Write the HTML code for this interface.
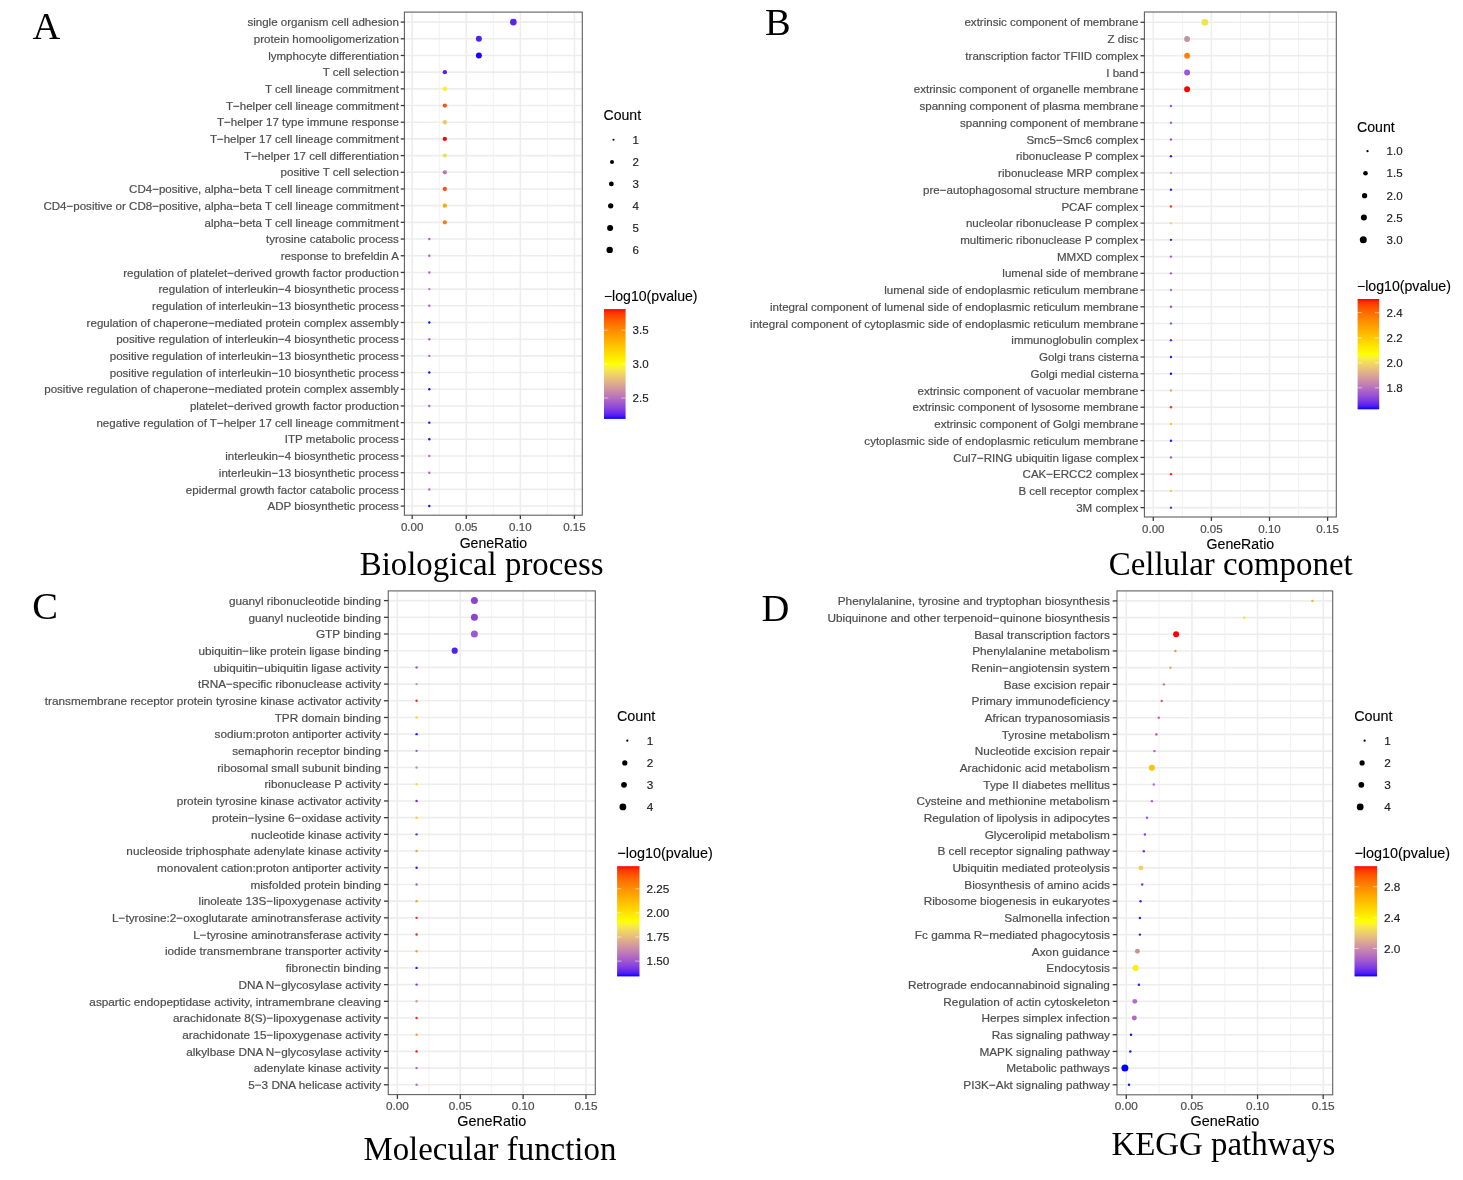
<!DOCTYPE html>
<html><head><meta charset="utf-8"><style>
html,body{margin:0;padding:0;background:#fff;}
svg{display:block;will-change:transform;}
.ax{font-family:"Liberation Sans", sans-serif;font-size:11.45px;fill:#4d4d4d;stroke:#4d4d4d;stroke-width:0.2px;}
.lg{font-family:"Liberation Sans", sans-serif;font-size:11.45px;fill:#1a1a1a;stroke:#1a1a1a;stroke-width:0.15px;}
.ti{font-family:"Liberation Sans", sans-serif;font-size:14.1px;fill:#000;stroke:#000;stroke-width:0.12px;}
.let{font-family:"Liberation Serif", serif;font-size:38.5px;fill:#000;}
.big{font-family:"Liberation Serif", serif;font-size:32.9px;fill:#000;}
</style></head><body>
<svg width="1463" height="1180" viewBox="0 0 1463 1180">
<rect width="1463" height="1180" fill="#fff"/>
<rect x="404.4" y="12.1" width="177.89999999999998" height="503.1" fill="#fff"/>
<line x1="439.24" y1="12.1" x2="439.24" y2="515.2" stroke="#f0f0f0" stroke-width="0.9"/>
<line x1="493.31" y1="12.1" x2="493.31" y2="515.2" stroke="#f0f0f0" stroke-width="0.9"/>
<line x1="547.38" y1="12.1" x2="547.38" y2="515.2" stroke="#f0f0f0" stroke-width="0.9"/>
<line x1="412.20" y1="12.1" x2="412.20" y2="515.2" stroke="#ededed" stroke-width="1.6"/>
<line x1="466.27" y1="12.1" x2="466.27" y2="515.2" stroke="#ededed" stroke-width="1.6"/>
<line x1="520.34" y1="12.1" x2="520.34" y2="515.2" stroke="#ededed" stroke-width="1.6"/>
<line x1="574.41" y1="12.1" x2="574.41" y2="515.2" stroke="#ededed" stroke-width="1.6"/>
<line x1="404.4" y1="22.10" x2="582.3" y2="22.10" stroke="#ededed" stroke-width="1.6"/>
<line x1="404.4" y1="38.79" x2="582.3" y2="38.79" stroke="#ededed" stroke-width="1.6"/>
<line x1="404.4" y1="55.48" x2="582.3" y2="55.48" stroke="#ededed" stroke-width="1.6"/>
<line x1="404.4" y1="72.17" x2="582.3" y2="72.17" stroke="#ededed" stroke-width="1.6"/>
<line x1="404.4" y1="88.85" x2="582.3" y2="88.85" stroke="#ededed" stroke-width="1.6"/>
<line x1="404.4" y1="105.54" x2="582.3" y2="105.54" stroke="#ededed" stroke-width="1.6"/>
<line x1="404.4" y1="122.23" x2="582.3" y2="122.23" stroke="#ededed" stroke-width="1.6"/>
<line x1="404.4" y1="138.92" x2="582.3" y2="138.92" stroke="#ededed" stroke-width="1.6"/>
<line x1="404.4" y1="155.61" x2="582.3" y2="155.61" stroke="#ededed" stroke-width="1.6"/>
<line x1="404.4" y1="172.30" x2="582.3" y2="172.30" stroke="#ededed" stroke-width="1.6"/>
<line x1="404.4" y1="188.99" x2="582.3" y2="188.99" stroke="#ededed" stroke-width="1.6"/>
<line x1="404.4" y1="205.67" x2="582.3" y2="205.67" stroke="#ededed" stroke-width="1.6"/>
<line x1="404.4" y1="222.36" x2="582.3" y2="222.36" stroke="#ededed" stroke-width="1.6"/>
<line x1="404.4" y1="239.05" x2="582.3" y2="239.05" stroke="#ededed" stroke-width="1.6"/>
<line x1="404.4" y1="255.74" x2="582.3" y2="255.74" stroke="#ededed" stroke-width="1.6"/>
<line x1="404.4" y1="272.43" x2="582.3" y2="272.43" stroke="#ededed" stroke-width="1.6"/>
<line x1="404.4" y1="289.12" x2="582.3" y2="289.12" stroke="#ededed" stroke-width="1.6"/>
<line x1="404.4" y1="305.81" x2="582.3" y2="305.81" stroke="#ededed" stroke-width="1.6"/>
<line x1="404.4" y1="322.50" x2="582.3" y2="322.50" stroke="#ededed" stroke-width="1.6"/>
<line x1="404.4" y1="339.18" x2="582.3" y2="339.18" stroke="#ededed" stroke-width="1.6"/>
<line x1="404.4" y1="355.87" x2="582.3" y2="355.87" stroke="#ededed" stroke-width="1.6"/>
<line x1="404.4" y1="372.56" x2="582.3" y2="372.56" stroke="#ededed" stroke-width="1.6"/>
<line x1="404.4" y1="389.25" x2="582.3" y2="389.25" stroke="#ededed" stroke-width="1.6"/>
<line x1="404.4" y1="405.94" x2="582.3" y2="405.94" stroke="#ededed" stroke-width="1.6"/>
<line x1="404.4" y1="422.63" x2="582.3" y2="422.63" stroke="#ededed" stroke-width="1.6"/>
<line x1="404.4" y1="439.32" x2="582.3" y2="439.32" stroke="#ededed" stroke-width="1.6"/>
<line x1="404.4" y1="456.00" x2="582.3" y2="456.00" stroke="#ededed" stroke-width="1.6"/>
<line x1="404.4" y1="472.69" x2="582.3" y2="472.69" stroke="#ededed" stroke-width="1.6"/>
<line x1="404.4" y1="489.38" x2="582.3" y2="489.38" stroke="#ededed" stroke-width="1.6"/>
<line x1="404.4" y1="506.07" x2="582.3" y2="506.07" stroke="#ededed" stroke-width="1.6"/>
<circle cx="513.35" cy="22.10" r="3.35" fill="#5c22ee"/>
<circle cx="478.90" cy="38.79" r="3.00" fill="#5020ee"/>
<circle cx="478.90" cy="55.48" r="3.00" fill="#2000ff"/>
<circle cx="444.85" cy="72.17" r="2.15" fill="#5a1af0"/>
<circle cx="444.85" cy="88.85" r="2.15" fill="#fff000"/>
<circle cx="444.85" cy="105.54" r="2.15" fill="#ff5010"/>
<circle cx="444.85" cy="122.23" r="2.15" fill="#e8c860"/>
<circle cx="444.85" cy="138.92" r="2.15" fill="#ff0010"/>
<circle cx="444.85" cy="155.61" r="2.15" fill="#f0e050"/>
<circle cx="444.85" cy="172.30" r="2.15" fill="#b878b0"/>
<circle cx="444.85" cy="188.99" r="2.15" fill="#ff5010"/>
<circle cx="444.85" cy="205.67" r="2.15" fill="#ffa800"/>
<circle cx="444.85" cy="222.36" r="2.15" fill="#ff7a10"/>
<circle cx="429.30" cy="239.05" r="1.20" fill="#b062c8"/>
<circle cx="429.30" cy="255.74" r="1.20" fill="#b062c8"/>
<circle cx="429.30" cy="272.43" r="1.20" fill="#b062c8"/>
<circle cx="429.30" cy="289.12" r="1.20" fill="#b878c0"/>
<circle cx="429.30" cy="305.81" r="1.20" fill="#b062c8"/>
<circle cx="429.30" cy="322.50" r="1.20" fill="#1414ff"/>
<circle cx="429.30" cy="339.18" r="1.20" fill="#b062c8"/>
<circle cx="429.30" cy="355.87" r="1.20" fill="#b062c8"/>
<circle cx="429.30" cy="372.56" r="1.20" fill="#1414ff"/>
<circle cx="429.30" cy="389.25" r="1.20" fill="#1414ff"/>
<circle cx="429.30" cy="405.94" r="1.20" fill="#b062c8"/>
<circle cx="429.30" cy="422.63" r="1.20" fill="#1414ff"/>
<circle cx="429.30" cy="439.32" r="1.20" fill="#1414ff"/>
<circle cx="429.30" cy="456.00" r="1.20" fill="#b878c0"/>
<circle cx="429.30" cy="472.69" r="1.20" fill="#b062c8"/>
<circle cx="429.30" cy="489.38" r="1.20" fill="#b062c8"/>
<circle cx="429.30" cy="506.07" r="1.20" fill="#1414ff"/>
<rect x="404.4" y="12.1" width="177.89999999999998" height="503.1" fill="none" stroke="#606060" stroke-width="1.1"/>
<line x1="400.70" y1="22.10" x2="404.4" y2="22.10" stroke="#3a3a3a" stroke-width="1.3"/>
<text x="398.90" y="26.23" text-anchor="end" class="ax" style="font-size:11.55px">single organism cell adhesion</text>
<line x1="400.70" y1="38.79" x2="404.4" y2="38.79" stroke="#3a3a3a" stroke-width="1.3"/>
<text x="398.90" y="42.92" text-anchor="end" class="ax" style="font-size:11.55px">protein homooligomerization</text>
<line x1="400.70" y1="55.48" x2="404.4" y2="55.48" stroke="#3a3a3a" stroke-width="1.3"/>
<text x="398.90" y="59.61" text-anchor="end" class="ax" style="font-size:11.55px">lymphocyte differentiation</text>
<line x1="400.70" y1="72.17" x2="404.4" y2="72.17" stroke="#3a3a3a" stroke-width="1.3"/>
<text x="398.90" y="76.30" text-anchor="end" class="ax" style="font-size:11.55px">T cell selection</text>
<line x1="400.70" y1="88.85" x2="404.4" y2="88.85" stroke="#3a3a3a" stroke-width="1.3"/>
<text x="398.90" y="92.99" text-anchor="end" class="ax" style="font-size:11.55px">T cell lineage commitment</text>
<line x1="400.70" y1="105.54" x2="404.4" y2="105.54" stroke="#3a3a3a" stroke-width="1.3"/>
<text x="398.90" y="109.68" text-anchor="end" class="ax" style="font-size:11.55px">T−helper cell lineage commitment</text>
<line x1="400.70" y1="122.23" x2="404.4" y2="122.23" stroke="#3a3a3a" stroke-width="1.3"/>
<text x="398.90" y="126.37" text-anchor="end" class="ax" style="font-size:11.55px">T−helper 17 type immune response</text>
<line x1="400.70" y1="138.92" x2="404.4" y2="138.92" stroke="#3a3a3a" stroke-width="1.3"/>
<text x="398.90" y="143.06" text-anchor="end" class="ax" style="font-size:11.55px">T−helper 17 cell lineage commitment</text>
<line x1="400.70" y1="155.61" x2="404.4" y2="155.61" stroke="#3a3a3a" stroke-width="1.3"/>
<text x="398.90" y="159.74" text-anchor="end" class="ax" style="font-size:11.55px">T−helper 17 cell differentiation</text>
<line x1="400.70" y1="172.30" x2="404.4" y2="172.30" stroke="#3a3a3a" stroke-width="1.3"/>
<text x="398.90" y="176.43" text-anchor="end" class="ax" style="font-size:11.55px">positive T cell selection</text>
<line x1="400.70" y1="188.99" x2="404.4" y2="188.99" stroke="#3a3a3a" stroke-width="1.3"/>
<text x="398.90" y="193.12" text-anchor="end" class="ax" style="font-size:11.55px">CD4−positive, alpha−beta T cell lineage commitment</text>
<line x1="400.70" y1="205.67" x2="404.4" y2="205.67" stroke="#3a3a3a" stroke-width="1.3"/>
<text x="398.90" y="209.81" text-anchor="end" class="ax" style="font-size:11.55px">CD4−positive or CD8−positive, alpha−beta T cell lineage commitment</text>
<line x1="400.70" y1="222.36" x2="404.4" y2="222.36" stroke="#3a3a3a" stroke-width="1.3"/>
<text x="398.90" y="226.50" text-anchor="end" class="ax" style="font-size:11.55px">alpha−beta T cell lineage commitment</text>
<line x1="400.70" y1="239.05" x2="404.4" y2="239.05" stroke="#3a3a3a" stroke-width="1.3"/>
<text x="398.90" y="243.19" text-anchor="end" class="ax" style="font-size:11.55px">tyrosine catabolic process</text>
<line x1="400.70" y1="255.74" x2="404.4" y2="255.74" stroke="#3a3a3a" stroke-width="1.3"/>
<text x="398.90" y="259.88" text-anchor="end" class="ax" style="font-size:11.55px">response to brefeldin A</text>
<line x1="400.70" y1="272.43" x2="404.4" y2="272.43" stroke="#3a3a3a" stroke-width="1.3"/>
<text x="398.90" y="276.56" text-anchor="end" class="ax" style="font-size:11.55px">regulation of platelet−derived growth factor production</text>
<line x1="400.70" y1="289.12" x2="404.4" y2="289.12" stroke="#3a3a3a" stroke-width="1.3"/>
<text x="398.90" y="293.25" text-anchor="end" class="ax" style="font-size:11.55px">regulation of interleukin−4 biosynthetic process</text>
<line x1="400.70" y1="305.81" x2="404.4" y2="305.81" stroke="#3a3a3a" stroke-width="1.3"/>
<text x="398.90" y="309.94" text-anchor="end" class="ax" style="font-size:11.55px">regulation of interleukin−13 biosynthetic process</text>
<line x1="400.70" y1="322.50" x2="404.4" y2="322.50" stroke="#3a3a3a" stroke-width="1.3"/>
<text x="398.90" y="326.63" text-anchor="end" class="ax" style="font-size:11.55px">regulation of chaperone−mediated protein complex assembly</text>
<line x1="400.70" y1="339.18" x2="404.4" y2="339.18" stroke="#3a3a3a" stroke-width="1.3"/>
<text x="398.90" y="343.32" text-anchor="end" class="ax" style="font-size:11.55px">positive regulation of interleukin−4 biosynthetic process</text>
<line x1="400.70" y1="355.87" x2="404.4" y2="355.87" stroke="#3a3a3a" stroke-width="1.3"/>
<text x="398.90" y="360.01" text-anchor="end" class="ax" style="font-size:11.55px">positive regulation of interleukin−13 biosynthetic process</text>
<line x1="400.70" y1="372.56" x2="404.4" y2="372.56" stroke="#3a3a3a" stroke-width="1.3"/>
<text x="398.90" y="376.70" text-anchor="end" class="ax" style="font-size:11.55px">positive regulation of interleukin−10 biosynthetic process</text>
<line x1="400.70" y1="389.25" x2="404.4" y2="389.25" stroke="#3a3a3a" stroke-width="1.3"/>
<text x="398.90" y="393.38" text-anchor="end" class="ax" style="font-size:11.55px">positive regulation of chaperone−mediated protein complex assembly</text>
<line x1="400.70" y1="405.94" x2="404.4" y2="405.94" stroke="#3a3a3a" stroke-width="1.3"/>
<text x="398.90" y="410.07" text-anchor="end" class="ax" style="font-size:11.55px">platelet−derived growth factor production</text>
<line x1="400.70" y1="422.63" x2="404.4" y2="422.63" stroke="#3a3a3a" stroke-width="1.3"/>
<text x="398.90" y="426.76" text-anchor="end" class="ax" style="font-size:11.55px">negative regulation of T−helper 17 cell lineage commitment</text>
<line x1="400.70" y1="439.32" x2="404.4" y2="439.32" stroke="#3a3a3a" stroke-width="1.3"/>
<text x="398.90" y="443.45" text-anchor="end" class="ax" style="font-size:11.55px">ITP metabolic process</text>
<line x1="400.70" y1="456.00" x2="404.4" y2="456.00" stroke="#3a3a3a" stroke-width="1.3"/>
<text x="398.90" y="460.14" text-anchor="end" class="ax" style="font-size:11.55px">interleukin−4 biosynthetic process</text>
<line x1="400.70" y1="472.69" x2="404.4" y2="472.69" stroke="#3a3a3a" stroke-width="1.3"/>
<text x="398.90" y="476.83" text-anchor="end" class="ax" style="font-size:11.55px">interleukin−13 biosynthetic process</text>
<line x1="400.70" y1="489.38" x2="404.4" y2="489.38" stroke="#3a3a3a" stroke-width="1.3"/>
<text x="398.90" y="493.52" text-anchor="end" class="ax" style="font-size:11.55px">epidermal growth factor catabolic process</text>
<line x1="400.70" y1="506.07" x2="404.4" y2="506.07" stroke="#3a3a3a" stroke-width="1.3"/>
<text x="398.90" y="510.20" text-anchor="end" class="ax" style="font-size:11.55px">ADP biosynthetic process</text>
<line x1="412.20" y1="515.2" x2="412.20" y2="518.90" stroke="#3a3a3a" stroke-width="1.3"/>
<text x="412.20" y="531.00" text-anchor="middle" class="ax" style="font-size:11.55px">0.00</text>
<line x1="466.27" y1="515.2" x2="466.27" y2="518.90" stroke="#3a3a3a" stroke-width="1.3"/>
<text x="466.27" y="531.00" text-anchor="middle" class="ax" style="font-size:11.55px">0.05</text>
<line x1="520.34" y1="515.2" x2="520.34" y2="518.90" stroke="#3a3a3a" stroke-width="1.3"/>
<text x="520.34" y="531.00" text-anchor="middle" class="ax" style="font-size:11.55px">0.10</text>
<line x1="574.41" y1="515.2" x2="574.41" y2="518.90" stroke="#3a3a3a" stroke-width="1.3"/>
<text x="574.41" y="531.00" text-anchor="middle" class="ax" style="font-size:11.55px">0.15</text>
<text x="493.35" y="547.50" text-anchor="middle" class="ti" style="font-size:14.1px">GeneRatio</text>
<text x="32.5" y="39.0" class="let">A</text>
<text x="359.7" y="574.7" class="big">Biological process</text>
<text x="603.5" y="120.3" class="ti" style="font-size:14.1px">Count</text>
<circle cx="613.5" cy="139.7" r="1.05" fill="#000"/>
<text x="632.6" y="143.83" class="lg" style="font-size:11.55px">1</text>
<circle cx="612.0" cy="162.0" r="2.00" fill="#000"/>
<text x="632.6" y="166.13" class="lg" style="font-size:11.55px">2</text>
<circle cx="611.35" cy="183.9" r="2.40" fill="#000"/>
<text x="632.6" y="188.03" class="lg" style="font-size:11.55px">3</text>
<circle cx="610.7" cy="205.8" r="2.65" fill="#000"/>
<text x="632.6" y="209.93" class="lg" style="font-size:11.55px">4</text>
<circle cx="610.1" cy="227.9" r="3.00" fill="#000"/>
<text x="632.6" y="232.03" class="lg" style="font-size:11.55px">5</text>
<circle cx="609.7" cy="249.9" r="3.20" fill="#000"/>
<text x="632.6" y="254.03" class="lg" style="font-size:11.55px">6</text>
<defs><linearGradient id="gA" x1="0" y1="0" x2="0" y2="1"><stop offset="0.000" stop-color="#ff0000"/><stop offset="0.025" stop-color="#ff2c00"/><stop offset="0.050" stop-color="#ff4100"/><stop offset="0.075" stop-color="#ff5100"/><stop offset="0.100" stop-color="#ff5f00"/><stop offset="0.125" stop-color="#ff6c00"/><stop offset="0.150" stop-color="#ff7700"/><stop offset="0.175" stop-color="#ff8200"/><stop offset="0.200" stop-color="#ff8d00"/><stop offset="0.225" stop-color="#ff9700"/><stop offset="0.250" stop-color="#ffa100"/><stop offset="0.275" stop-color="#ffab00"/><stop offset="0.300" stop-color="#ffb500"/><stop offset="0.325" stop-color="#ffbf00"/><stop offset="0.350" stop-color="#ffc800"/><stop offset="0.375" stop-color="#ffd100"/><stop offset="0.400" stop-color="#ffdb00"/><stop offset="0.425" stop-color="#ffe400"/><stop offset="0.450" stop-color="#ffed00"/><stop offset="0.475" stop-color="#fff600"/><stop offset="0.500" stop-color="#ffff00"/><stop offset="0.525" stop-color="#fbf334"/><stop offset="0.550" stop-color="#f8e74a"/><stop offset="0.575" stop-color="#f3dc5b"/><stop offset="0.600" stop-color="#efd06a"/><stop offset="0.625" stop-color="#eac476"/><stop offset="0.650" stop-color="#e4b982"/><stop offset="0.675" stop-color="#dead8c"/><stop offset="0.700" stop-color="#d8a197"/><stop offset="0.725" stop-color="#d196a0"/><stop offset="0.750" stop-color="#ca8aaa"/><stop offset="0.775" stop-color="#c27fb3"/><stop offset="0.800" stop-color="#b973bc"/><stop offset="0.825" stop-color="#af68c4"/><stop offset="0.850" stop-color="#a45ccd"/><stop offset="0.875" stop-color="#9850d5"/><stop offset="0.900" stop-color="#8a44de"/><stop offset="0.925" stop-color="#7937e6"/><stop offset="0.950" stop-color="#6529ef"/><stop offset="0.975" stop-color="#4819f7"/><stop offset="1.000" stop-color="#0000ff"/></linearGradient></defs>
<text x="603.9" y="300.9" class="ti" style="font-size:14.1px">−log10(pvalue)</text>
<rect x="604.0" y="309.1" width="21.6" height="109.8" fill="url(#gA)"/>
<line x1="604.0" y1="330.2" x2="608.3" y2="330.2" stroke="#fff" stroke-opacity="0.55" stroke-width="1"/>
<line x1="621.3000000000001" y1="330.2" x2="625.6" y2="330.2" stroke="#fff" stroke-opacity="0.55" stroke-width="1"/>
<text x="632.6" y="334.33" class="lg" style="font-size:11.55px">3.5</text>
<line x1="604.0" y1="364.0" x2="608.3" y2="364.0" stroke="#fff" stroke-opacity="0.55" stroke-width="1"/>
<line x1="621.3000000000001" y1="364.0" x2="625.6" y2="364.0" stroke="#fff" stroke-opacity="0.55" stroke-width="1"/>
<text x="632.6" y="368.13" class="lg" style="font-size:11.55px">3.0</text>
<line x1="604.0" y1="398.0" x2="608.3" y2="398.0" stroke="#fff" stroke-opacity="0.55" stroke-width="1"/>
<line x1="621.3000000000001" y1="398.0" x2="625.6" y2="398.0" stroke="#fff" stroke-opacity="0.55" stroke-width="1"/>
<text x="632.6" y="402.13" class="lg" style="font-size:11.55px">2.5</text>
<rect x="1144.4" y="12.0" width="191.89999999999986" height="505.0" fill="#fff"/>
<line x1="1182.35" y1="12.0" x2="1182.35" y2="517.0" stroke="#f0f0f0" stroke-width="0.9"/>
<line x1="1240.45" y1="12.0" x2="1240.45" y2="517.0" stroke="#f0f0f0" stroke-width="0.9"/>
<line x1="1298.55" y1="12.0" x2="1298.55" y2="517.0" stroke="#f0f0f0" stroke-width="0.9"/>
<line x1="1153.30" y1="12.0" x2="1153.30" y2="517.0" stroke="#ededed" stroke-width="1.6"/>
<line x1="1211.40" y1="12.0" x2="1211.40" y2="517.0" stroke="#ededed" stroke-width="1.6"/>
<line x1="1269.50" y1="12.0" x2="1269.50" y2="517.0" stroke="#ededed" stroke-width="1.6"/>
<line x1="1327.60" y1="12.0" x2="1327.60" y2="517.0" stroke="#ededed" stroke-width="1.6"/>
<line x1="1144.4" y1="22.30" x2="1336.3" y2="22.30" stroke="#ededed" stroke-width="1.6"/>
<line x1="1144.4" y1="39.04" x2="1336.3" y2="39.04" stroke="#ededed" stroke-width="1.6"/>
<line x1="1144.4" y1="55.77" x2="1336.3" y2="55.77" stroke="#ededed" stroke-width="1.6"/>
<line x1="1144.4" y1="72.51" x2="1336.3" y2="72.51" stroke="#ededed" stroke-width="1.6"/>
<line x1="1144.4" y1="89.24" x2="1336.3" y2="89.24" stroke="#ededed" stroke-width="1.6"/>
<line x1="1144.4" y1="105.98" x2="1336.3" y2="105.98" stroke="#ededed" stroke-width="1.6"/>
<line x1="1144.4" y1="122.71" x2="1336.3" y2="122.71" stroke="#ededed" stroke-width="1.6"/>
<line x1="1144.4" y1="139.45" x2="1336.3" y2="139.45" stroke="#ededed" stroke-width="1.6"/>
<line x1="1144.4" y1="156.18" x2="1336.3" y2="156.18" stroke="#ededed" stroke-width="1.6"/>
<line x1="1144.4" y1="172.92" x2="1336.3" y2="172.92" stroke="#ededed" stroke-width="1.6"/>
<line x1="1144.4" y1="189.66" x2="1336.3" y2="189.66" stroke="#ededed" stroke-width="1.6"/>
<line x1="1144.4" y1="206.39" x2="1336.3" y2="206.39" stroke="#ededed" stroke-width="1.6"/>
<line x1="1144.4" y1="223.13" x2="1336.3" y2="223.13" stroke="#ededed" stroke-width="1.6"/>
<line x1="1144.4" y1="239.86" x2="1336.3" y2="239.86" stroke="#ededed" stroke-width="1.6"/>
<line x1="1144.4" y1="256.60" x2="1336.3" y2="256.60" stroke="#ededed" stroke-width="1.6"/>
<line x1="1144.4" y1="273.33" x2="1336.3" y2="273.33" stroke="#ededed" stroke-width="1.6"/>
<line x1="1144.4" y1="290.07" x2="1336.3" y2="290.07" stroke="#ededed" stroke-width="1.6"/>
<line x1="1144.4" y1="306.80" x2="1336.3" y2="306.80" stroke="#ededed" stroke-width="1.6"/>
<line x1="1144.4" y1="323.54" x2="1336.3" y2="323.54" stroke="#ededed" stroke-width="1.6"/>
<line x1="1144.4" y1="340.27" x2="1336.3" y2="340.27" stroke="#ededed" stroke-width="1.6"/>
<line x1="1144.4" y1="357.01" x2="1336.3" y2="357.01" stroke="#ededed" stroke-width="1.6"/>
<line x1="1144.4" y1="373.75" x2="1336.3" y2="373.75" stroke="#ededed" stroke-width="1.6"/>
<line x1="1144.4" y1="390.48" x2="1336.3" y2="390.48" stroke="#ededed" stroke-width="1.6"/>
<line x1="1144.4" y1="407.22" x2="1336.3" y2="407.22" stroke="#ededed" stroke-width="1.6"/>
<line x1="1144.4" y1="423.95" x2="1336.3" y2="423.95" stroke="#ededed" stroke-width="1.6"/>
<line x1="1144.4" y1="440.69" x2="1336.3" y2="440.69" stroke="#ededed" stroke-width="1.6"/>
<line x1="1144.4" y1="457.42" x2="1336.3" y2="457.42" stroke="#ededed" stroke-width="1.6"/>
<line x1="1144.4" y1="474.16" x2="1336.3" y2="474.16" stroke="#ededed" stroke-width="1.6"/>
<line x1="1144.4" y1="490.89" x2="1336.3" y2="490.89" stroke="#ededed" stroke-width="1.6"/>
<line x1="1144.4" y1="507.63" x2="1336.3" y2="507.63" stroke="#ededed" stroke-width="1.6"/>
<circle cx="1204.90" cy="22.30" r="3.35" fill="#f2e448"/>
<circle cx="1187.10" cy="39.04" r="2.95" fill="#c68faa"/>
<circle cx="1187.10" cy="55.77" r="2.95" fill="#ff8010"/>
<circle cx="1187.10" cy="72.51" r="2.95" fill="#9a55d8"/>
<circle cx="1187.10" cy="89.24" r="2.95" fill="#ff0000"/>
<circle cx="1170.95" cy="105.98" r="1.20" fill="#a050d0"/>
<circle cx="1170.95" cy="122.71" r="1.20" fill="#a060d0"/>
<circle cx="1170.95" cy="139.45" r="1.20" fill="#a050d0"/>
<circle cx="1170.95" cy="156.18" r="1.20" fill="#3020f0"/>
<circle cx="1170.95" cy="172.92" r="1.20" fill="#d0a090"/>
<circle cx="1170.95" cy="189.66" r="1.20" fill="#2020f0"/>
<circle cx="1170.95" cy="206.39" r="1.20" fill="#ff3000"/>
<circle cx="1170.95" cy="223.13" r="1.20" fill="#f0d860"/>
<circle cx="1170.95" cy="239.86" r="1.20" fill="#5020e0"/>
<circle cx="1170.95" cy="256.60" r="1.20" fill="#a060c0"/>
<circle cx="1170.95" cy="273.33" r="1.20" fill="#a060c0"/>
<circle cx="1170.95" cy="290.07" r="1.20" fill="#b070c0"/>
<circle cx="1170.95" cy="306.80" r="1.20" fill="#a050d0"/>
<circle cx="1170.95" cy="323.54" r="1.20" fill="#a060c0"/>
<circle cx="1170.95" cy="340.27" r="1.20" fill="#6030e0"/>
<circle cx="1170.95" cy="357.01" r="1.20" fill="#2020ff"/>
<circle cx="1170.95" cy="373.75" r="1.20" fill="#1010ff"/>
<circle cx="1170.95" cy="390.48" r="1.20" fill="#e0b070"/>
<circle cx="1170.95" cy="407.22" r="1.20" fill="#ff3010"/>
<circle cx="1170.95" cy="423.95" r="1.20" fill="#ffc020"/>
<circle cx="1170.95" cy="440.69" r="1.20" fill="#2020f0"/>
<circle cx="1170.95" cy="457.42" r="1.20" fill="#a060c0"/>
<circle cx="1170.95" cy="474.16" r="1.20" fill="#ff2010"/>
<circle cx="1170.95" cy="490.89" r="1.20" fill="#f0d040"/>
<circle cx="1170.95" cy="507.63" r="1.20" fill="#6030e0"/>
<rect x="1144.4" y="12.0" width="191.89999999999986" height="505.0" fill="none" stroke="#606060" stroke-width="1.1"/>
<line x1="1140.50" y1="22.30" x2="1144.4" y2="22.30" stroke="#3a3a3a" stroke-width="1.3"/>
<text x="1138.40" y="26.43" text-anchor="end" class="ax" style="font-size:11.55px">extrinsic component of membrane</text>
<line x1="1140.50" y1="39.04" x2="1144.4" y2="39.04" stroke="#3a3a3a" stroke-width="1.3"/>
<text x="1138.40" y="43.17" text-anchor="end" class="ax" style="font-size:11.55px">Z disc</text>
<line x1="1140.50" y1="55.77" x2="1144.4" y2="55.77" stroke="#3a3a3a" stroke-width="1.3"/>
<text x="1138.40" y="59.91" text-anchor="end" class="ax" style="font-size:11.55px">transcription factor TFIID complex</text>
<line x1="1140.50" y1="72.51" x2="1144.4" y2="72.51" stroke="#3a3a3a" stroke-width="1.3"/>
<text x="1138.40" y="76.64" text-anchor="end" class="ax" style="font-size:11.55px">I band</text>
<line x1="1140.50" y1="89.24" x2="1144.4" y2="89.24" stroke="#3a3a3a" stroke-width="1.3"/>
<text x="1138.40" y="93.38" text-anchor="end" class="ax" style="font-size:11.55px">extrinsic component of organelle membrane</text>
<line x1="1140.50" y1="105.98" x2="1144.4" y2="105.98" stroke="#3a3a3a" stroke-width="1.3"/>
<text x="1138.40" y="110.11" text-anchor="end" class="ax" style="font-size:11.55px">spanning component of plasma membrane</text>
<line x1="1140.50" y1="122.71" x2="1144.4" y2="122.71" stroke="#3a3a3a" stroke-width="1.3"/>
<text x="1138.40" y="126.85" text-anchor="end" class="ax" style="font-size:11.55px">spanning component of membrane</text>
<line x1="1140.50" y1="139.45" x2="1144.4" y2="139.45" stroke="#3a3a3a" stroke-width="1.3"/>
<text x="1138.40" y="143.58" text-anchor="end" class="ax" style="font-size:11.55px">Smc5−Smc6 complex</text>
<line x1="1140.50" y1="156.18" x2="1144.4" y2="156.18" stroke="#3a3a3a" stroke-width="1.3"/>
<text x="1138.40" y="160.32" text-anchor="end" class="ax" style="font-size:11.55px">ribonuclease P complex</text>
<line x1="1140.50" y1="172.92" x2="1144.4" y2="172.92" stroke="#3a3a3a" stroke-width="1.3"/>
<text x="1138.40" y="177.05" text-anchor="end" class="ax" style="font-size:11.55px">ribonuclease MRP complex</text>
<line x1="1140.50" y1="189.66" x2="1144.4" y2="189.66" stroke="#3a3a3a" stroke-width="1.3"/>
<text x="1138.40" y="193.79" text-anchor="end" class="ax" style="font-size:11.55px">pre−autophagosomal structure membrane</text>
<line x1="1140.50" y1="206.39" x2="1144.4" y2="206.39" stroke="#3a3a3a" stroke-width="1.3"/>
<text x="1138.40" y="210.53" text-anchor="end" class="ax" style="font-size:11.55px">PCAF complex</text>
<line x1="1140.50" y1="223.13" x2="1144.4" y2="223.13" stroke="#3a3a3a" stroke-width="1.3"/>
<text x="1138.40" y="227.26" text-anchor="end" class="ax" style="font-size:11.55px">nucleolar ribonuclease P complex</text>
<line x1="1140.50" y1="239.86" x2="1144.4" y2="239.86" stroke="#3a3a3a" stroke-width="1.3"/>
<text x="1138.40" y="244.00" text-anchor="end" class="ax" style="font-size:11.55px">multimeric ribonuclease P complex</text>
<line x1="1140.50" y1="256.60" x2="1144.4" y2="256.60" stroke="#3a3a3a" stroke-width="1.3"/>
<text x="1138.40" y="260.73" text-anchor="end" class="ax" style="font-size:11.55px">MMXD complex</text>
<line x1="1140.50" y1="273.33" x2="1144.4" y2="273.33" stroke="#3a3a3a" stroke-width="1.3"/>
<text x="1138.40" y="277.47" text-anchor="end" class="ax" style="font-size:11.55px">lumenal side of membrane</text>
<line x1="1140.50" y1="290.07" x2="1144.4" y2="290.07" stroke="#3a3a3a" stroke-width="1.3"/>
<text x="1138.40" y="294.20" text-anchor="end" class="ax" style="font-size:11.55px">lumenal side of endoplasmic reticulum membrane</text>
<line x1="1140.50" y1="306.80" x2="1144.4" y2="306.80" stroke="#3a3a3a" stroke-width="1.3"/>
<text x="1138.40" y="310.94" text-anchor="end" class="ax" style="font-size:11.55px">integral component of lumenal side of endoplasmic reticulum membrane</text>
<line x1="1140.50" y1="323.54" x2="1144.4" y2="323.54" stroke="#3a3a3a" stroke-width="1.3"/>
<text x="1138.40" y="327.67" text-anchor="end" class="ax" style="font-size:11.55px">integral component of cytoplasmic side of endoplasmic reticulum membrane</text>
<line x1="1140.50" y1="340.27" x2="1144.4" y2="340.27" stroke="#3a3a3a" stroke-width="1.3"/>
<text x="1138.40" y="344.41" text-anchor="end" class="ax" style="font-size:11.55px">immunoglobulin complex</text>
<line x1="1140.50" y1="357.01" x2="1144.4" y2="357.01" stroke="#3a3a3a" stroke-width="1.3"/>
<text x="1138.40" y="361.15" text-anchor="end" class="ax" style="font-size:11.55px">Golgi trans cisterna</text>
<line x1="1140.50" y1="373.75" x2="1144.4" y2="373.75" stroke="#3a3a3a" stroke-width="1.3"/>
<text x="1138.40" y="377.88" text-anchor="end" class="ax" style="font-size:11.55px">Golgi medial cisterna</text>
<line x1="1140.50" y1="390.48" x2="1144.4" y2="390.48" stroke="#3a3a3a" stroke-width="1.3"/>
<text x="1138.40" y="394.62" text-anchor="end" class="ax" style="font-size:11.55px">extrinsic component of vacuolar membrane</text>
<line x1="1140.50" y1="407.22" x2="1144.4" y2="407.22" stroke="#3a3a3a" stroke-width="1.3"/>
<text x="1138.40" y="411.35" text-anchor="end" class="ax" style="font-size:11.55px">extrinsic component of lysosome membrane</text>
<line x1="1140.50" y1="423.95" x2="1144.4" y2="423.95" stroke="#3a3a3a" stroke-width="1.3"/>
<text x="1138.40" y="428.09" text-anchor="end" class="ax" style="font-size:11.55px">extrinsic component of Golgi membrane</text>
<line x1="1140.50" y1="440.69" x2="1144.4" y2="440.69" stroke="#3a3a3a" stroke-width="1.3"/>
<text x="1138.40" y="444.82" text-anchor="end" class="ax" style="font-size:11.55px">cytoplasmic side of endoplasmic reticulum membrane</text>
<line x1="1140.50" y1="457.42" x2="1144.4" y2="457.42" stroke="#3a3a3a" stroke-width="1.3"/>
<text x="1138.40" y="461.56" text-anchor="end" class="ax" style="font-size:11.55px">Cul7−RING ubiquitin ligase complex</text>
<line x1="1140.50" y1="474.16" x2="1144.4" y2="474.16" stroke="#3a3a3a" stroke-width="1.3"/>
<text x="1138.40" y="478.29" text-anchor="end" class="ax" style="font-size:11.55px">CAK−ERCC2 complex</text>
<line x1="1140.50" y1="490.89" x2="1144.4" y2="490.89" stroke="#3a3a3a" stroke-width="1.3"/>
<text x="1138.40" y="495.03" text-anchor="end" class="ax" style="font-size:11.55px">B cell receptor complex</text>
<line x1="1140.50" y1="507.63" x2="1144.4" y2="507.63" stroke="#3a3a3a" stroke-width="1.3"/>
<text x="1138.40" y="511.76" text-anchor="end" class="ax" style="font-size:11.55px">3M complex</text>
<line x1="1153.30" y1="517.0" x2="1153.30" y2="520.90" stroke="#3a3a3a" stroke-width="1.3"/>
<text x="1153.30" y="532.70" text-anchor="middle" class="ax" style="font-size:11.55px">0.00</text>
<line x1="1211.40" y1="517.0" x2="1211.40" y2="520.90" stroke="#3a3a3a" stroke-width="1.3"/>
<text x="1211.40" y="532.70" text-anchor="middle" class="ax" style="font-size:11.55px">0.05</text>
<line x1="1269.50" y1="517.0" x2="1269.50" y2="520.90" stroke="#3a3a3a" stroke-width="1.3"/>
<text x="1269.50" y="532.70" text-anchor="middle" class="ax" style="font-size:11.55px">0.10</text>
<line x1="1327.60" y1="517.0" x2="1327.60" y2="520.90" stroke="#3a3a3a" stroke-width="1.3"/>
<text x="1327.60" y="532.70" text-anchor="middle" class="ax" style="font-size:11.55px">0.15</text>
<text x="1240.35" y="549.00" text-anchor="middle" class="ti" style="font-size:14.15px">GeneRatio</text>
<text x="765.0" y="35.4" class="let">B</text>
<text x="1108.8" y="574.7" class="big">Cellular componet</text>
<text x="1357.0" y="131.6" class="ti" style="font-size:14.15px">Count</text>
<circle cx="1367.5" cy="151.2" r="1.15" fill="#000"/>
<text x="1386.5" y="155.33" class="lg" style="font-size:11.55px">1.0</text>
<circle cx="1365.5" cy="173.3" r="2.30" fill="#000"/>
<text x="1386.5" y="177.43" class="lg" style="font-size:11.55px">1.5</text>
<circle cx="1364.6" cy="195.7" r="2.65" fill="#000"/>
<text x="1386.5" y="199.83" class="lg" style="font-size:11.55px">2.0</text>
<circle cx="1363.9" cy="217.5" r="3.00" fill="#000"/>
<text x="1386.5" y="221.63" class="lg" style="font-size:11.55px">2.5</text>
<circle cx="1363.3" cy="239.7" r="3.50" fill="#000"/>
<text x="1386.5" y="243.83" class="lg" style="font-size:11.55px">3.0</text>
<defs><linearGradient id="gB" x1="0" y1="0" x2="0" y2="1"><stop offset="0.000" stop-color="#ff0000"/><stop offset="0.025" stop-color="#ff2c00"/><stop offset="0.050" stop-color="#ff4100"/><stop offset="0.075" stop-color="#ff5100"/><stop offset="0.100" stop-color="#ff5f00"/><stop offset="0.125" stop-color="#ff6c00"/><stop offset="0.150" stop-color="#ff7700"/><stop offset="0.175" stop-color="#ff8200"/><stop offset="0.200" stop-color="#ff8d00"/><stop offset="0.225" stop-color="#ff9700"/><stop offset="0.250" stop-color="#ffa100"/><stop offset="0.275" stop-color="#ffab00"/><stop offset="0.300" stop-color="#ffb500"/><stop offset="0.325" stop-color="#ffbf00"/><stop offset="0.350" stop-color="#ffc800"/><stop offset="0.375" stop-color="#ffd100"/><stop offset="0.400" stop-color="#ffdb00"/><stop offset="0.425" stop-color="#ffe400"/><stop offset="0.450" stop-color="#ffed00"/><stop offset="0.475" stop-color="#fff600"/><stop offset="0.500" stop-color="#ffff00"/><stop offset="0.525" stop-color="#fbf334"/><stop offset="0.550" stop-color="#f8e74a"/><stop offset="0.575" stop-color="#f3dc5b"/><stop offset="0.600" stop-color="#efd06a"/><stop offset="0.625" stop-color="#eac476"/><stop offset="0.650" stop-color="#e4b982"/><stop offset="0.675" stop-color="#dead8c"/><stop offset="0.700" stop-color="#d8a197"/><stop offset="0.725" stop-color="#d196a0"/><stop offset="0.750" stop-color="#ca8aaa"/><stop offset="0.775" stop-color="#c27fb3"/><stop offset="0.800" stop-color="#b973bc"/><stop offset="0.825" stop-color="#af68c4"/><stop offset="0.850" stop-color="#a45ccd"/><stop offset="0.875" stop-color="#9850d5"/><stop offset="0.900" stop-color="#8a44de"/><stop offset="0.925" stop-color="#7937e6"/><stop offset="0.950" stop-color="#6529ef"/><stop offset="0.975" stop-color="#4819f7"/><stop offset="1.000" stop-color="#0000ff"/></linearGradient></defs>
<text x="1356.9" y="291.1" class="ti" style="font-size:14.15px">−log10(pvalue)</text>
<rect x="1357.6" y="299.0" width="21.6" height="110.3" fill="url(#gB)"/>
<line x1="1357.6" y1="312.7" x2="1361.8999999999999" y2="312.7" stroke="#fff" stroke-opacity="0.55" stroke-width="1"/>
<line x1="1374.8999999999999" y1="312.7" x2="1379.1999999999998" y2="312.7" stroke="#fff" stroke-opacity="0.55" stroke-width="1"/>
<text x="1386.5" y="316.83" class="lg" style="font-size:11.55px">2.4</text>
<line x1="1357.6" y1="337.9" x2="1361.8999999999999" y2="337.9" stroke="#fff" stroke-opacity="0.55" stroke-width="1"/>
<line x1="1374.8999999999999" y1="337.9" x2="1379.1999999999998" y2="337.9" stroke="#fff" stroke-opacity="0.55" stroke-width="1"/>
<text x="1386.5" y="342.03" class="lg" style="font-size:11.55px">2.2</text>
<line x1="1357.6" y1="362.8" x2="1361.8999999999999" y2="362.8" stroke="#fff" stroke-opacity="0.55" stroke-width="1"/>
<line x1="1374.8999999999999" y1="362.8" x2="1379.1999999999998" y2="362.8" stroke="#fff" stroke-opacity="0.55" stroke-width="1"/>
<text x="1386.5" y="366.93" class="lg" style="font-size:11.55px">2.0</text>
<line x1="1357.6" y1="387.8" x2="1361.8999999999999" y2="387.8" stroke="#fff" stroke-opacity="0.55" stroke-width="1"/>
<line x1="1374.8999999999999" y1="387.8" x2="1379.1999999999998" y2="387.8" stroke="#fff" stroke-opacity="0.55" stroke-width="1"/>
<text x="1386.5" y="391.93" class="lg" style="font-size:11.55px">1.8</text>
<rect x="388.25" y="590.9" width="207.04999999999995" height="503.69999999999993" fill="#fff"/>
<line x1="428.83" y1="590.9" x2="428.83" y2="1094.6" stroke="#f0f0f0" stroke-width="0.9"/>
<line x1="491.70" y1="590.9" x2="491.70" y2="1094.6" stroke="#f0f0f0" stroke-width="0.9"/>
<line x1="554.58" y1="590.9" x2="554.58" y2="1094.6" stroke="#f0f0f0" stroke-width="0.9"/>
<line x1="397.40" y1="590.9" x2="397.40" y2="1094.6" stroke="#ededed" stroke-width="1.6"/>
<line x1="460.27" y1="590.9" x2="460.27" y2="1094.6" stroke="#ededed" stroke-width="1.6"/>
<line x1="523.14" y1="590.9" x2="523.14" y2="1094.6" stroke="#ededed" stroke-width="1.6"/>
<line x1="586.01" y1="590.9" x2="586.01" y2="1094.6" stroke="#ededed" stroke-width="1.6"/>
<line x1="388.25" y1="600.60" x2="595.3" y2="600.60" stroke="#ededed" stroke-width="1.6"/>
<line x1="388.25" y1="617.30" x2="595.3" y2="617.30" stroke="#ededed" stroke-width="1.6"/>
<line x1="388.25" y1="633.99" x2="595.3" y2="633.99" stroke="#ededed" stroke-width="1.6"/>
<line x1="388.25" y1="650.69" x2="595.3" y2="650.69" stroke="#ededed" stroke-width="1.6"/>
<line x1="388.25" y1="667.39" x2="595.3" y2="667.39" stroke="#ededed" stroke-width="1.6"/>
<line x1="388.25" y1="684.08" x2="595.3" y2="684.08" stroke="#ededed" stroke-width="1.6"/>
<line x1="388.25" y1="700.78" x2="595.3" y2="700.78" stroke="#ededed" stroke-width="1.6"/>
<line x1="388.25" y1="717.48" x2="595.3" y2="717.48" stroke="#ededed" stroke-width="1.6"/>
<line x1="388.25" y1="734.17" x2="595.3" y2="734.17" stroke="#ededed" stroke-width="1.6"/>
<line x1="388.25" y1="750.87" x2="595.3" y2="750.87" stroke="#ededed" stroke-width="1.6"/>
<line x1="388.25" y1="767.57" x2="595.3" y2="767.57" stroke="#ededed" stroke-width="1.6"/>
<line x1="388.25" y1="784.26" x2="595.3" y2="784.26" stroke="#ededed" stroke-width="1.6"/>
<line x1="388.25" y1="800.96" x2="595.3" y2="800.96" stroke="#ededed" stroke-width="1.6"/>
<line x1="388.25" y1="817.66" x2="595.3" y2="817.66" stroke="#ededed" stroke-width="1.6"/>
<line x1="388.25" y1="834.35" x2="595.3" y2="834.35" stroke="#ededed" stroke-width="1.6"/>
<line x1="388.25" y1="851.05" x2="595.3" y2="851.05" stroke="#ededed" stroke-width="1.6"/>
<line x1="388.25" y1="867.74" x2="595.3" y2="867.74" stroke="#ededed" stroke-width="1.6"/>
<line x1="388.25" y1="884.44" x2="595.3" y2="884.44" stroke="#ededed" stroke-width="1.6"/>
<line x1="388.25" y1="901.14" x2="595.3" y2="901.14" stroke="#ededed" stroke-width="1.6"/>
<line x1="388.25" y1="917.83" x2="595.3" y2="917.83" stroke="#ededed" stroke-width="1.6"/>
<line x1="388.25" y1="934.53" x2="595.3" y2="934.53" stroke="#ededed" stroke-width="1.6"/>
<line x1="388.25" y1="951.23" x2="595.3" y2="951.23" stroke="#ededed" stroke-width="1.6"/>
<line x1="388.25" y1="967.92" x2="595.3" y2="967.92" stroke="#ededed" stroke-width="1.6"/>
<line x1="388.25" y1="984.62" x2="595.3" y2="984.62" stroke="#ededed" stroke-width="1.6"/>
<line x1="388.25" y1="1001.32" x2="595.3" y2="1001.32" stroke="#ededed" stroke-width="1.6"/>
<line x1="388.25" y1="1018.01" x2="595.3" y2="1018.01" stroke="#ededed" stroke-width="1.6"/>
<line x1="388.25" y1="1034.71" x2="595.3" y2="1034.71" stroke="#ededed" stroke-width="1.6"/>
<line x1="388.25" y1="1051.41" x2="595.3" y2="1051.41" stroke="#ededed" stroke-width="1.6"/>
<line x1="388.25" y1="1068.10" x2="595.3" y2="1068.10" stroke="#ededed" stroke-width="1.6"/>
<line x1="388.25" y1="1084.80" x2="595.3" y2="1084.80" stroke="#ededed" stroke-width="1.6"/>
<circle cx="474.40" cy="600.60" r="3.50" fill="#8b44d8"/>
<circle cx="474.40" cy="617.30" r="3.50" fill="#8b44d8"/>
<circle cx="474.40" cy="633.99" r="3.50" fill="#9b5ad0"/>
<circle cx="454.70" cy="650.69" r="3.10" fill="#5020f0"/>
<circle cx="416.60" cy="667.39" r="1.20" fill="#9050d8"/>
<circle cx="416.60" cy="684.08" r="1.20" fill="#c890a0"/>
<circle cx="416.60" cy="700.78" r="1.20" fill="#ff2020"/>
<circle cx="416.60" cy="717.48" r="1.20" fill="#ffd030"/>
<circle cx="416.60" cy="734.17" r="1.20" fill="#2020ff"/>
<circle cx="416.60" cy="750.87" r="1.20" fill="#9060d0"/>
<circle cx="416.60" cy="767.57" r="1.20" fill="#c890a0"/>
<circle cx="416.60" cy="784.26" r="1.20" fill="#f0e040"/>
<circle cx="416.60" cy="800.96" r="1.20" fill="#7030e0"/>
<circle cx="416.60" cy="817.66" r="1.20" fill="#ffd020"/>
<circle cx="416.60" cy="834.35" r="1.20" fill="#6030e8"/>
<circle cx="416.60" cy="851.05" r="1.20" fill="#ffa020"/>
<circle cx="416.60" cy="867.74" r="1.20" fill="#2020f0"/>
<circle cx="416.60" cy="884.44" r="1.20" fill="#a060d0"/>
<circle cx="416.60" cy="901.14" r="1.20" fill="#ffa020"/>
<circle cx="416.60" cy="917.83" r="1.20" fill="#ff2020"/>
<circle cx="416.60" cy="934.53" r="1.20" fill="#ff2020"/>
<circle cx="416.60" cy="951.23" r="1.20" fill="#ffa030"/>
<circle cx="416.60" cy="967.92" r="1.20" fill="#2020f0"/>
<circle cx="416.60" cy="984.62" r="1.20" fill="#8040e0"/>
<circle cx="416.60" cy="1001.32" r="1.20" fill="#d8a080"/>
<circle cx="416.60" cy="1018.01" r="1.20" fill="#ff2020"/>
<circle cx="416.60" cy="1034.71" r="1.20" fill="#ffa020"/>
<circle cx="416.60" cy="1051.41" r="1.20" fill="#ff1010"/>
<circle cx="416.60" cy="1068.10" r="1.20" fill="#a060d0"/>
<circle cx="416.60" cy="1084.80" r="1.20" fill="#b070c0"/>
<rect x="388.25" y="590.9" width="207.04999999999995" height="503.69999999999993" fill="none" stroke="#606060" stroke-width="1.1"/>
<line x1="383.95" y1="600.60" x2="388.25" y2="600.60" stroke="#3a3a3a" stroke-width="1.3"/>
<text x="381.10" y="604.81" text-anchor="end" class="ax" style="font-size:11.76px">guanyl ribonucleotide binding</text>
<line x1="383.95" y1="617.30" x2="388.25" y2="617.30" stroke="#3a3a3a" stroke-width="1.3"/>
<text x="381.10" y="621.51" text-anchor="end" class="ax" style="font-size:11.76px">guanyl nucleotide binding</text>
<line x1="383.95" y1="633.99" x2="388.25" y2="633.99" stroke="#3a3a3a" stroke-width="1.3"/>
<text x="381.10" y="638.20" text-anchor="end" class="ax" style="font-size:11.76px">GTP binding</text>
<line x1="383.95" y1="650.69" x2="388.25" y2="650.69" stroke="#3a3a3a" stroke-width="1.3"/>
<text x="381.10" y="654.90" text-anchor="end" class="ax" style="font-size:11.76px">ubiquitin−like protein ligase binding</text>
<line x1="383.95" y1="667.39" x2="388.25" y2="667.39" stroke="#3a3a3a" stroke-width="1.3"/>
<text x="381.10" y="671.60" text-anchor="end" class="ax" style="font-size:11.76px">ubiquitin−ubiquitin ligase activity</text>
<line x1="383.95" y1="684.08" x2="388.25" y2="684.08" stroke="#3a3a3a" stroke-width="1.3"/>
<text x="381.10" y="688.29" text-anchor="end" class="ax" style="font-size:11.76px">tRNA−specific ribonuclease activity</text>
<line x1="383.95" y1="700.78" x2="388.25" y2="700.78" stroke="#3a3a3a" stroke-width="1.3"/>
<text x="381.10" y="704.99" text-anchor="end" class="ax" style="font-size:11.76px">transmembrane receptor protein tyrosine kinase activator activity</text>
<line x1="383.95" y1="717.48" x2="388.25" y2="717.48" stroke="#3a3a3a" stroke-width="1.3"/>
<text x="381.10" y="721.69" text-anchor="end" class="ax" style="font-size:11.76px">TPR domain binding</text>
<line x1="383.95" y1="734.17" x2="388.25" y2="734.17" stroke="#3a3a3a" stroke-width="1.3"/>
<text x="381.10" y="738.38" text-anchor="end" class="ax" style="font-size:11.76px">sodium:proton antiporter activity</text>
<line x1="383.95" y1="750.87" x2="388.25" y2="750.87" stroke="#3a3a3a" stroke-width="1.3"/>
<text x="381.10" y="755.08" text-anchor="end" class="ax" style="font-size:11.76px">semaphorin receptor binding</text>
<line x1="383.95" y1="767.57" x2="388.25" y2="767.57" stroke="#3a3a3a" stroke-width="1.3"/>
<text x="381.10" y="771.78" text-anchor="end" class="ax" style="font-size:11.76px">ribosomal small subunit binding</text>
<line x1="383.95" y1="784.26" x2="388.25" y2="784.26" stroke="#3a3a3a" stroke-width="1.3"/>
<text x="381.10" y="788.47" text-anchor="end" class="ax" style="font-size:11.76px">ribonuclease P activity</text>
<line x1="383.95" y1="800.96" x2="388.25" y2="800.96" stroke="#3a3a3a" stroke-width="1.3"/>
<text x="381.10" y="805.17" text-anchor="end" class="ax" style="font-size:11.76px">protein tyrosine kinase activator activity</text>
<line x1="383.95" y1="817.66" x2="388.25" y2="817.66" stroke="#3a3a3a" stroke-width="1.3"/>
<text x="381.10" y="821.87" text-anchor="end" class="ax" style="font-size:11.76px">protein−lysine 6−oxidase activity</text>
<line x1="383.95" y1="834.35" x2="388.25" y2="834.35" stroke="#3a3a3a" stroke-width="1.3"/>
<text x="381.10" y="838.56" text-anchor="end" class="ax" style="font-size:11.76px">nucleotide kinase activity</text>
<line x1="383.95" y1="851.05" x2="388.25" y2="851.05" stroke="#3a3a3a" stroke-width="1.3"/>
<text x="381.10" y="855.26" text-anchor="end" class="ax" style="font-size:11.76px">nucleoside triphosphate adenylate kinase activity</text>
<line x1="383.95" y1="867.74" x2="388.25" y2="867.74" stroke="#3a3a3a" stroke-width="1.3"/>
<text x="381.10" y="871.95" text-anchor="end" class="ax" style="font-size:11.76px">monovalent cation:proton antiporter activity</text>
<line x1="383.95" y1="884.44" x2="388.25" y2="884.44" stroke="#3a3a3a" stroke-width="1.3"/>
<text x="381.10" y="888.65" text-anchor="end" class="ax" style="font-size:11.76px">misfolded protein binding</text>
<line x1="383.95" y1="901.14" x2="388.25" y2="901.14" stroke="#3a3a3a" stroke-width="1.3"/>
<text x="381.10" y="905.35" text-anchor="end" class="ax" style="font-size:11.76px">linoleate 13S−lipoxygenase activity</text>
<line x1="383.95" y1="917.83" x2="388.25" y2="917.83" stroke="#3a3a3a" stroke-width="1.3"/>
<text x="381.10" y="922.04" text-anchor="end" class="ax" style="font-size:11.76px">L−tyrosine:2−oxoglutarate aminotransferase activity</text>
<line x1="383.95" y1="934.53" x2="388.25" y2="934.53" stroke="#3a3a3a" stroke-width="1.3"/>
<text x="381.10" y="938.74" text-anchor="end" class="ax" style="font-size:11.76px">L−tyrosine aminotransferase activity</text>
<line x1="383.95" y1="951.23" x2="388.25" y2="951.23" stroke="#3a3a3a" stroke-width="1.3"/>
<text x="381.10" y="955.44" text-anchor="end" class="ax" style="font-size:11.76px">iodide transmembrane transporter activity</text>
<line x1="383.95" y1="967.92" x2="388.25" y2="967.92" stroke="#3a3a3a" stroke-width="1.3"/>
<text x="381.10" y="972.13" text-anchor="end" class="ax" style="font-size:11.76px">fibronectin binding</text>
<line x1="383.95" y1="984.62" x2="388.25" y2="984.62" stroke="#3a3a3a" stroke-width="1.3"/>
<text x="381.10" y="988.83" text-anchor="end" class="ax" style="font-size:11.76px">DNA N−glycosylase activity</text>
<line x1="383.95" y1="1001.32" x2="388.25" y2="1001.32" stroke="#3a3a3a" stroke-width="1.3"/>
<text x="381.10" y="1005.53" text-anchor="end" class="ax" style="font-size:11.76px">aspartic endopeptidase activity, intramembrane cleaving</text>
<line x1="383.95" y1="1018.01" x2="388.25" y2="1018.01" stroke="#3a3a3a" stroke-width="1.3"/>
<text x="381.10" y="1022.22" text-anchor="end" class="ax" style="font-size:11.76px">arachidonate 8(S)−lipoxygenase activity</text>
<line x1="383.95" y1="1034.71" x2="388.25" y2="1034.71" stroke="#3a3a3a" stroke-width="1.3"/>
<text x="381.10" y="1038.92" text-anchor="end" class="ax" style="font-size:11.76px">arachidonate 15−lipoxygenase activity</text>
<line x1="383.95" y1="1051.41" x2="388.25" y2="1051.41" stroke="#3a3a3a" stroke-width="1.3"/>
<text x="381.10" y="1055.62" text-anchor="end" class="ax" style="font-size:11.76px">alkylbase DNA N−glycosylase activity</text>
<line x1="383.95" y1="1068.10" x2="388.25" y2="1068.10" stroke="#3a3a3a" stroke-width="1.3"/>
<text x="381.10" y="1072.31" text-anchor="end" class="ax" style="font-size:11.76px">adenylate kinase activity</text>
<line x1="383.95" y1="1084.80" x2="388.25" y2="1084.80" stroke="#3a3a3a" stroke-width="1.3"/>
<text x="381.10" y="1089.01" text-anchor="end" class="ax" style="font-size:11.76px">5−3 DNA helicase activity</text>
<line x1="397.40" y1="1094.6" x2="397.40" y2="1098.90" stroke="#3a3a3a" stroke-width="1.3"/>
<text x="397.40" y="1110.10" text-anchor="middle" class="ax" style="font-size:11.76px">0.00</text>
<line x1="460.27" y1="1094.6" x2="460.27" y2="1098.90" stroke="#3a3a3a" stroke-width="1.3"/>
<text x="460.27" y="1110.10" text-anchor="middle" class="ax" style="font-size:11.76px">0.05</text>
<line x1="523.14" y1="1094.6" x2="523.14" y2="1098.90" stroke="#3a3a3a" stroke-width="1.3"/>
<text x="523.14" y="1110.10" text-anchor="middle" class="ax" style="font-size:11.76px">0.10</text>
<line x1="586.01" y1="1094.6" x2="586.01" y2="1098.90" stroke="#3a3a3a" stroke-width="1.3"/>
<text x="586.01" y="1110.10" text-anchor="middle" class="ax" style="font-size:11.76px">0.15</text>
<text x="491.77" y="1126.10" text-anchor="middle" class="ti" style="font-size:14.4px">GeneRatio</text>
<text x="32.25" y="619.2" class="let">C</text>
<text x="363.4" y="1159.9" class="big">Molecular function</text>
<text x="616.9" y="721.4" class="ti" style="font-size:14.4px">Count</text>
<circle cx="627.3" cy="740.7" r="1.10" fill="#000"/>
<text x="646.7" y="744.91" class="lg" style="font-size:11.76px">1</text>
<circle cx="624.8" cy="762.9" r="2.60" fill="#000"/>
<text x="646.7" y="767.11" class="lg" style="font-size:11.76px">2</text>
<circle cx="624.0" cy="784.8" r="2.90" fill="#000"/>
<text x="646.7" y="789.01" class="lg" style="font-size:11.76px">3</text>
<circle cx="622.9" cy="806.9" r="3.40" fill="#000"/>
<text x="646.7" y="811.11" class="lg" style="font-size:11.76px">4</text>
<defs><linearGradient id="gC" x1="0" y1="0" x2="0" y2="1"><stop offset="0.000" stop-color="#ff0000"/><stop offset="0.025" stop-color="#ff2c00"/><stop offset="0.050" stop-color="#ff4100"/><stop offset="0.075" stop-color="#ff5100"/><stop offset="0.100" stop-color="#ff5f00"/><stop offset="0.125" stop-color="#ff6c00"/><stop offset="0.150" stop-color="#ff7700"/><stop offset="0.175" stop-color="#ff8200"/><stop offset="0.200" stop-color="#ff8d00"/><stop offset="0.225" stop-color="#ff9700"/><stop offset="0.250" stop-color="#ffa100"/><stop offset="0.275" stop-color="#ffab00"/><stop offset="0.300" stop-color="#ffb500"/><stop offset="0.325" stop-color="#ffbf00"/><stop offset="0.350" stop-color="#ffc800"/><stop offset="0.375" stop-color="#ffd100"/><stop offset="0.400" stop-color="#ffdb00"/><stop offset="0.425" stop-color="#ffe400"/><stop offset="0.450" stop-color="#ffed00"/><stop offset="0.475" stop-color="#fff600"/><stop offset="0.500" stop-color="#ffff00"/><stop offset="0.525" stop-color="#fbf334"/><stop offset="0.550" stop-color="#f8e74a"/><stop offset="0.575" stop-color="#f3dc5b"/><stop offset="0.600" stop-color="#efd06a"/><stop offset="0.625" stop-color="#eac476"/><stop offset="0.650" stop-color="#e4b982"/><stop offset="0.675" stop-color="#dead8c"/><stop offset="0.700" stop-color="#d8a197"/><stop offset="0.725" stop-color="#d196a0"/><stop offset="0.750" stop-color="#ca8aaa"/><stop offset="0.775" stop-color="#c27fb3"/><stop offset="0.800" stop-color="#b973bc"/><stop offset="0.825" stop-color="#af68c4"/><stop offset="0.850" stop-color="#a45ccd"/><stop offset="0.875" stop-color="#9850d5"/><stop offset="0.900" stop-color="#8a44de"/><stop offset="0.925" stop-color="#7937e6"/><stop offset="0.950" stop-color="#6529ef"/><stop offset="0.975" stop-color="#4819f7"/><stop offset="1.000" stop-color="#0000ff"/></linearGradient></defs>
<text x="617.3" y="857.8" class="ti" style="font-size:14.4px">−log10(pvalue)</text>
<rect x="617.1" y="866.2" width="22.4" height="110.2" fill="url(#gC)"/>
<line x1="617.1" y1="888.8" x2="621.4" y2="888.8" stroke="#fff" stroke-opacity="0.55" stroke-width="1"/>
<line x1="635.2" y1="888.8" x2="639.5" y2="888.8" stroke="#fff" stroke-opacity="0.55" stroke-width="1"/>
<text x="646.5" y="893.01" class="lg" style="font-size:11.76px">2.25</text>
<line x1="617.1" y1="912.9" x2="621.4" y2="912.9" stroke="#fff" stroke-opacity="0.55" stroke-width="1"/>
<line x1="635.2" y1="912.9" x2="639.5" y2="912.9" stroke="#fff" stroke-opacity="0.55" stroke-width="1"/>
<text x="646.5" y="917.11" class="lg" style="font-size:11.76px">2.00</text>
<line x1="617.1" y1="937.0" x2="621.4" y2="937.0" stroke="#fff" stroke-opacity="0.55" stroke-width="1"/>
<line x1="635.2" y1="937.0" x2="639.5" y2="937.0" stroke="#fff" stroke-opacity="0.55" stroke-width="1"/>
<text x="646.5" y="941.21" class="lg" style="font-size:11.76px">1.75</text>
<line x1="617.1" y1="961.1" x2="621.4" y2="961.1" stroke="#fff" stroke-opacity="0.55" stroke-width="1"/>
<line x1="635.2" y1="961.1" x2="639.5" y2="961.1" stroke="#fff" stroke-opacity="0.55" stroke-width="1"/>
<text x="646.5" y="965.31" class="lg" style="font-size:11.76px">1.50</text>
<rect x="1117.0" y="590.9" width="215.70000000000005" height="503.9" fill="#fff"/>
<line x1="1159.12" y1="590.9" x2="1159.12" y2="1094.8" stroke="#f0f0f0" stroke-width="0.9"/>
<line x1="1224.75" y1="590.9" x2="1224.75" y2="1094.8" stroke="#f0f0f0" stroke-width="0.9"/>
<line x1="1290.39" y1="590.9" x2="1290.39" y2="1094.8" stroke="#f0f0f0" stroke-width="0.9"/>
<line x1="1126.30" y1="590.9" x2="1126.30" y2="1094.8" stroke="#ededed" stroke-width="1.6"/>
<line x1="1191.93" y1="590.9" x2="1191.93" y2="1094.8" stroke="#ededed" stroke-width="1.6"/>
<line x1="1257.57" y1="590.9" x2="1257.57" y2="1094.8" stroke="#ededed" stroke-width="1.6"/>
<line x1="1323.20" y1="590.9" x2="1323.20" y2="1094.8" stroke="#ededed" stroke-width="1.6"/>
<line x1="1117.0" y1="600.90" x2="1332.7" y2="600.90" stroke="#ededed" stroke-width="1.6"/>
<line x1="1117.0" y1="617.59" x2="1332.7" y2="617.59" stroke="#ededed" stroke-width="1.6"/>
<line x1="1117.0" y1="634.27" x2="1332.7" y2="634.27" stroke="#ededed" stroke-width="1.6"/>
<line x1="1117.0" y1="650.96" x2="1332.7" y2="650.96" stroke="#ededed" stroke-width="1.6"/>
<line x1="1117.0" y1="667.64" x2="1332.7" y2="667.64" stroke="#ededed" stroke-width="1.6"/>
<line x1="1117.0" y1="684.33" x2="1332.7" y2="684.33" stroke="#ededed" stroke-width="1.6"/>
<line x1="1117.0" y1="701.02" x2="1332.7" y2="701.02" stroke="#ededed" stroke-width="1.6"/>
<line x1="1117.0" y1="717.70" x2="1332.7" y2="717.70" stroke="#ededed" stroke-width="1.6"/>
<line x1="1117.0" y1="734.39" x2="1332.7" y2="734.39" stroke="#ededed" stroke-width="1.6"/>
<line x1="1117.0" y1="751.08" x2="1332.7" y2="751.08" stroke="#ededed" stroke-width="1.6"/>
<line x1="1117.0" y1="767.76" x2="1332.7" y2="767.76" stroke="#ededed" stroke-width="1.6"/>
<line x1="1117.0" y1="784.45" x2="1332.7" y2="784.45" stroke="#ededed" stroke-width="1.6"/>
<line x1="1117.0" y1="801.13" x2="1332.7" y2="801.13" stroke="#ededed" stroke-width="1.6"/>
<line x1="1117.0" y1="817.82" x2="1332.7" y2="817.82" stroke="#ededed" stroke-width="1.6"/>
<line x1="1117.0" y1="834.51" x2="1332.7" y2="834.51" stroke="#ededed" stroke-width="1.6"/>
<line x1="1117.0" y1="851.19" x2="1332.7" y2="851.19" stroke="#ededed" stroke-width="1.6"/>
<line x1="1117.0" y1="867.88" x2="1332.7" y2="867.88" stroke="#ededed" stroke-width="1.6"/>
<line x1="1117.0" y1="884.57" x2="1332.7" y2="884.57" stroke="#ededed" stroke-width="1.6"/>
<line x1="1117.0" y1="901.25" x2="1332.7" y2="901.25" stroke="#ededed" stroke-width="1.6"/>
<line x1="1117.0" y1="917.94" x2="1332.7" y2="917.94" stroke="#ededed" stroke-width="1.6"/>
<line x1="1117.0" y1="934.62" x2="1332.7" y2="934.62" stroke="#ededed" stroke-width="1.6"/>
<line x1="1117.0" y1="951.31" x2="1332.7" y2="951.31" stroke="#ededed" stroke-width="1.6"/>
<line x1="1117.0" y1="968.00" x2="1332.7" y2="968.00" stroke="#ededed" stroke-width="1.6"/>
<line x1="1117.0" y1="984.68" x2="1332.7" y2="984.68" stroke="#ededed" stroke-width="1.6"/>
<line x1="1117.0" y1="1001.37" x2="1332.7" y2="1001.37" stroke="#ededed" stroke-width="1.6"/>
<line x1="1117.0" y1="1018.06" x2="1332.7" y2="1018.06" stroke="#ededed" stroke-width="1.6"/>
<line x1="1117.0" y1="1034.74" x2="1332.7" y2="1034.74" stroke="#ededed" stroke-width="1.6"/>
<line x1="1117.0" y1="1051.43" x2="1332.7" y2="1051.43" stroke="#ededed" stroke-width="1.6"/>
<line x1="1117.0" y1="1068.11" x2="1332.7" y2="1068.11" stroke="#ededed" stroke-width="1.6"/>
<line x1="1117.0" y1="1084.80" x2="1332.7" y2="1084.80" stroke="#ededed" stroke-width="1.6"/>
<circle cx="1312.40" cy="600.90" r="1.20" fill="#ffb020"/>
<circle cx="1244.30" cy="617.59" r="1.20" fill="#ffd810"/>
<circle cx="1176.10" cy="634.27" r="3.00" fill="#ff0000"/>
<circle cx="1175.40" cy="650.96" r="1.20" fill="#e8a040"/>
<circle cx="1170.40" cy="667.64" r="1.20" fill="#e0a060"/>
<circle cx="1163.90" cy="684.33" r="1.20" fill="#d07080"/>
<circle cx="1161.70" cy="701.02" r="1.20" fill="#c06080"/>
<circle cx="1158.80" cy="717.70" r="1.20" fill="#c060b0"/>
<circle cx="1156.40" cy="734.39" r="1.20" fill="#b050b0"/>
<circle cx="1154.40" cy="751.08" r="1.20" fill="#b060c0"/>
<circle cx="1151.90" cy="767.76" r="3.00" fill="#ffc000"/>
<circle cx="1153.80" cy="784.45" r="1.20" fill="#b070c0"/>
<circle cx="1151.90" cy="801.13" r="1.20" fill="#b060d0"/>
<circle cx="1147.00" cy="817.82" r="1.20" fill="#a050e0"/>
<circle cx="1144.90" cy="834.51" r="1.20" fill="#8040f0"/>
<circle cx="1143.80" cy="851.19" r="1.20" fill="#7030f0"/>
<circle cx="1140.90" cy="867.88" r="2.45" fill="#f0d060"/>
<circle cx="1142.20" cy="884.57" r="1.20" fill="#7030f0"/>
<circle cx="1140.50" cy="901.25" r="1.20" fill="#4020ff"/>
<circle cx="1139.90" cy="917.94" r="1.20" fill="#2020ff"/>
<circle cx="1139.90" cy="934.62" r="1.20" fill="#2020ff"/>
<circle cx="1137.40" cy="951.31" r="2.45" fill="#d09090"/>
<circle cx="1135.60" cy="968.00" r="3.00" fill="#fff000"/>
<circle cx="1138.90" cy="984.68" r="1.20" fill="#2020ff"/>
<circle cx="1134.80" cy="1001.37" r="2.45" fill="#b070c0"/>
<circle cx="1134.30" cy="1018.06" r="2.45" fill="#b068c0"/>
<circle cx="1131.00" cy="1034.74" r="1.20" fill="#1010ff"/>
<circle cx="1130.30" cy="1051.43" r="1.20" fill="#1010ff"/>
<circle cx="1124.90" cy="1068.11" r="3.50" fill="#0000ff"/>
<circle cx="1129.00" cy="1084.80" r="1.20" fill="#1010ff"/>
<rect x="1117.0" y="590.9" width="215.70000000000005" height="503.9" fill="none" stroke="#606060" stroke-width="1.1"/>
<line x1="1112.70" y1="600.90" x2="1117.0" y2="600.90" stroke="#3a3a3a" stroke-width="1.3"/>
<text x="1109.90" y="605.12" text-anchor="end" class="ax" style="font-size:11.8px">Phenylalanine, tyrosine and tryptophan biosynthesis</text>
<line x1="1112.70" y1="617.59" x2="1117.0" y2="617.59" stroke="#3a3a3a" stroke-width="1.3"/>
<text x="1109.90" y="621.81" text-anchor="end" class="ax" style="font-size:11.8px">Ubiquinone and other terpenoid−quinone biosynthesis</text>
<line x1="1112.70" y1="634.27" x2="1117.0" y2="634.27" stroke="#3a3a3a" stroke-width="1.3"/>
<text x="1109.90" y="638.50" text-anchor="end" class="ax" style="font-size:11.8px">Basal transcription factors</text>
<line x1="1112.70" y1="650.96" x2="1117.0" y2="650.96" stroke="#3a3a3a" stroke-width="1.3"/>
<text x="1109.90" y="655.18" text-anchor="end" class="ax" style="font-size:11.8px">Phenylalanine metabolism</text>
<line x1="1112.70" y1="667.64" x2="1117.0" y2="667.64" stroke="#3a3a3a" stroke-width="1.3"/>
<text x="1109.90" y="671.87" text-anchor="end" class="ax" style="font-size:11.8px">Renin−angiotensin system</text>
<line x1="1112.70" y1="684.33" x2="1117.0" y2="684.33" stroke="#3a3a3a" stroke-width="1.3"/>
<text x="1109.90" y="688.56" text-anchor="end" class="ax" style="font-size:11.8px">Base excision repair</text>
<line x1="1112.70" y1="701.02" x2="1117.0" y2="701.02" stroke="#3a3a3a" stroke-width="1.3"/>
<text x="1109.90" y="705.24" text-anchor="end" class="ax" style="font-size:11.8px">Primary immunodeficiency</text>
<line x1="1112.70" y1="717.70" x2="1117.0" y2="717.70" stroke="#3a3a3a" stroke-width="1.3"/>
<text x="1109.90" y="721.93" text-anchor="end" class="ax" style="font-size:11.8px">African trypanosomiasis</text>
<line x1="1112.70" y1="734.39" x2="1117.0" y2="734.39" stroke="#3a3a3a" stroke-width="1.3"/>
<text x="1109.90" y="738.61" text-anchor="end" class="ax" style="font-size:11.8px">Tyrosine metabolism</text>
<line x1="1112.70" y1="751.08" x2="1117.0" y2="751.08" stroke="#3a3a3a" stroke-width="1.3"/>
<text x="1109.90" y="755.30" text-anchor="end" class="ax" style="font-size:11.8px">Nucleotide excision repair</text>
<line x1="1112.70" y1="767.76" x2="1117.0" y2="767.76" stroke="#3a3a3a" stroke-width="1.3"/>
<text x="1109.90" y="771.99" text-anchor="end" class="ax" style="font-size:11.8px">Arachidonic acid metabolism</text>
<line x1="1112.70" y1="784.45" x2="1117.0" y2="784.45" stroke="#3a3a3a" stroke-width="1.3"/>
<text x="1109.90" y="788.67" text-anchor="end" class="ax" style="font-size:11.8px">Type II diabetes mellitus</text>
<line x1="1112.70" y1="801.13" x2="1117.0" y2="801.13" stroke="#3a3a3a" stroke-width="1.3"/>
<text x="1109.90" y="805.36" text-anchor="end" class="ax" style="font-size:11.8px">Cysteine and methionine metabolism</text>
<line x1="1112.70" y1="817.82" x2="1117.0" y2="817.82" stroke="#3a3a3a" stroke-width="1.3"/>
<text x="1109.90" y="822.05" text-anchor="end" class="ax" style="font-size:11.8px">Regulation of lipolysis in adipocytes</text>
<line x1="1112.70" y1="834.51" x2="1117.0" y2="834.51" stroke="#3a3a3a" stroke-width="1.3"/>
<text x="1109.90" y="838.73" text-anchor="end" class="ax" style="font-size:11.8px">Glycerolipid metabolism</text>
<line x1="1112.70" y1="851.19" x2="1117.0" y2="851.19" stroke="#3a3a3a" stroke-width="1.3"/>
<text x="1109.90" y="855.42" text-anchor="end" class="ax" style="font-size:11.8px">B cell receptor signaling pathway</text>
<line x1="1112.70" y1="867.88" x2="1117.0" y2="867.88" stroke="#3a3a3a" stroke-width="1.3"/>
<text x="1109.90" y="872.10" text-anchor="end" class="ax" style="font-size:11.8px">Ubiquitin mediated proteolysis</text>
<line x1="1112.70" y1="884.57" x2="1117.0" y2="884.57" stroke="#3a3a3a" stroke-width="1.3"/>
<text x="1109.90" y="888.79" text-anchor="end" class="ax" style="font-size:11.8px">Biosynthesis of amino acids</text>
<line x1="1112.70" y1="901.25" x2="1117.0" y2="901.25" stroke="#3a3a3a" stroke-width="1.3"/>
<text x="1109.90" y="905.48" text-anchor="end" class="ax" style="font-size:11.8px">Ribosome biogenesis in eukaryotes</text>
<line x1="1112.70" y1="917.94" x2="1117.0" y2="917.94" stroke="#3a3a3a" stroke-width="1.3"/>
<text x="1109.90" y="922.16" text-anchor="end" class="ax" style="font-size:11.8px">Salmonella infection</text>
<line x1="1112.70" y1="934.62" x2="1117.0" y2="934.62" stroke="#3a3a3a" stroke-width="1.3"/>
<text x="1109.90" y="938.85" text-anchor="end" class="ax" style="font-size:11.8px">Fc gamma R−mediated phagocytosis</text>
<line x1="1112.70" y1="951.31" x2="1117.0" y2="951.31" stroke="#3a3a3a" stroke-width="1.3"/>
<text x="1109.90" y="955.53" text-anchor="end" class="ax" style="font-size:11.8px">Axon guidance</text>
<line x1="1112.70" y1="968.00" x2="1117.0" y2="968.00" stroke="#3a3a3a" stroke-width="1.3"/>
<text x="1109.90" y="972.22" text-anchor="end" class="ax" style="font-size:11.8px">Endocytosis</text>
<line x1="1112.70" y1="984.68" x2="1117.0" y2="984.68" stroke="#3a3a3a" stroke-width="1.3"/>
<text x="1109.90" y="988.91" text-anchor="end" class="ax" style="font-size:11.8px">Retrograde endocannabinoid signaling</text>
<line x1="1112.70" y1="1001.37" x2="1117.0" y2="1001.37" stroke="#3a3a3a" stroke-width="1.3"/>
<text x="1109.90" y="1005.59" text-anchor="end" class="ax" style="font-size:11.8px">Regulation of actin cytoskeleton</text>
<line x1="1112.70" y1="1018.06" x2="1117.0" y2="1018.06" stroke="#3a3a3a" stroke-width="1.3"/>
<text x="1109.90" y="1022.28" text-anchor="end" class="ax" style="font-size:11.8px">Herpes simplex infection</text>
<line x1="1112.70" y1="1034.74" x2="1117.0" y2="1034.74" stroke="#3a3a3a" stroke-width="1.3"/>
<text x="1109.90" y="1038.97" text-anchor="end" class="ax" style="font-size:11.8px">Ras signaling pathway</text>
<line x1="1112.70" y1="1051.43" x2="1117.0" y2="1051.43" stroke="#3a3a3a" stroke-width="1.3"/>
<text x="1109.90" y="1055.65" text-anchor="end" class="ax" style="font-size:11.8px">MAPK signaling pathway</text>
<line x1="1112.70" y1="1068.11" x2="1117.0" y2="1068.11" stroke="#3a3a3a" stroke-width="1.3"/>
<text x="1109.90" y="1072.34" text-anchor="end" class="ax" style="font-size:11.8px">Metabolic pathways</text>
<line x1="1112.70" y1="1084.80" x2="1117.0" y2="1084.80" stroke="#3a3a3a" stroke-width="1.3"/>
<text x="1109.90" y="1089.02" text-anchor="end" class="ax" style="font-size:11.8px">PI3K−Akt signaling pathway</text>
<line x1="1126.30" y1="1094.8" x2="1126.30" y2="1099.10" stroke="#3a3a3a" stroke-width="1.3"/>
<text x="1126.30" y="1110.30" text-anchor="middle" class="ax" style="font-size:11.8px">0.00</text>
<line x1="1191.93" y1="1094.8" x2="1191.93" y2="1099.10" stroke="#3a3a3a" stroke-width="1.3"/>
<text x="1191.93" y="1110.30" text-anchor="middle" class="ax" style="font-size:11.8px">0.05</text>
<line x1="1257.57" y1="1094.8" x2="1257.57" y2="1099.10" stroke="#3a3a3a" stroke-width="1.3"/>
<text x="1257.57" y="1110.30" text-anchor="middle" class="ax" style="font-size:11.8px">0.10</text>
<line x1="1323.20" y1="1094.8" x2="1323.20" y2="1099.10" stroke="#3a3a3a" stroke-width="1.3"/>
<text x="1323.20" y="1110.30" text-anchor="middle" class="ax" style="font-size:11.8px">0.15</text>
<text x="1224.85" y="1126.00" text-anchor="middle" class="ti" style="font-size:14.4px">GeneRatio</text>
<text x="761.4" y="621.3" class="let">D</text>
<text x="1111.5" y="1154.7" class="big">KEGG pathways</text>
<text x="1354.2" y="721.4" class="ti" style="font-size:14.4px">Count</text>
<circle cx="1364.6" cy="740.7" r="1.10" fill="#000"/>
<text x="1384.2" y="744.92" class="lg" style="font-size:11.8px">1</text>
<circle cx="1362.1" cy="762.9" r="2.60" fill="#000"/>
<text x="1384.2" y="767.12" class="lg" style="font-size:11.8px">2</text>
<circle cx="1361.3" cy="784.8" r="2.90" fill="#000"/>
<text x="1384.2" y="789.02" class="lg" style="font-size:11.8px">3</text>
<circle cx="1360.2" cy="806.9" r="3.40" fill="#000"/>
<text x="1384.2" y="811.12" class="lg" style="font-size:11.8px">4</text>
<defs><linearGradient id="gD" x1="0" y1="0" x2="0" y2="1"><stop offset="0.000" stop-color="#ff0000"/><stop offset="0.025" stop-color="#ff2c00"/><stop offset="0.050" stop-color="#ff4100"/><stop offset="0.075" stop-color="#ff5100"/><stop offset="0.100" stop-color="#ff5f00"/><stop offset="0.125" stop-color="#ff6c00"/><stop offset="0.150" stop-color="#ff7700"/><stop offset="0.175" stop-color="#ff8200"/><stop offset="0.200" stop-color="#ff8d00"/><stop offset="0.225" stop-color="#ff9700"/><stop offset="0.250" stop-color="#ffa100"/><stop offset="0.275" stop-color="#ffab00"/><stop offset="0.300" stop-color="#ffb500"/><stop offset="0.325" stop-color="#ffbf00"/><stop offset="0.350" stop-color="#ffc800"/><stop offset="0.375" stop-color="#ffd100"/><stop offset="0.400" stop-color="#ffdb00"/><stop offset="0.425" stop-color="#ffe400"/><stop offset="0.450" stop-color="#ffed00"/><stop offset="0.475" stop-color="#fff600"/><stop offset="0.500" stop-color="#ffff00"/><stop offset="0.525" stop-color="#fbf334"/><stop offset="0.550" stop-color="#f8e74a"/><stop offset="0.575" stop-color="#f3dc5b"/><stop offset="0.600" stop-color="#efd06a"/><stop offset="0.625" stop-color="#eac476"/><stop offset="0.650" stop-color="#e4b982"/><stop offset="0.675" stop-color="#dead8c"/><stop offset="0.700" stop-color="#d8a197"/><stop offset="0.725" stop-color="#d196a0"/><stop offset="0.750" stop-color="#ca8aaa"/><stop offset="0.775" stop-color="#c27fb3"/><stop offset="0.800" stop-color="#b973bc"/><stop offset="0.825" stop-color="#af68c4"/><stop offset="0.850" stop-color="#a45ccd"/><stop offset="0.875" stop-color="#9850d5"/><stop offset="0.900" stop-color="#8a44de"/><stop offset="0.925" stop-color="#7937e6"/><stop offset="0.950" stop-color="#6529ef"/><stop offset="0.975" stop-color="#4819f7"/><stop offset="1.000" stop-color="#0000ff"/></linearGradient></defs>
<text x="1354.4" y="857.8" class="ti" style="font-size:14.4px">−log10(pvalue)</text>
<rect x="1354.5" y="866.2" width="22.6" height="110.2" fill="url(#gD)"/>
<line x1="1354.5" y1="886.7" x2="1358.8" y2="886.7" stroke="#fff" stroke-opacity="0.55" stroke-width="1"/>
<line x1="1372.8" y1="886.7" x2="1377.1" y2="886.7" stroke="#fff" stroke-opacity="0.55" stroke-width="1"/>
<text x="1384.0" y="890.92" class="lg" style="font-size:11.8px">2.8</text>
<line x1="1354.5" y1="917.7" x2="1358.8" y2="917.7" stroke="#fff" stroke-opacity="0.55" stroke-width="1"/>
<line x1="1372.8" y1="917.7" x2="1377.1" y2="917.7" stroke="#fff" stroke-opacity="0.55" stroke-width="1"/>
<text x="1384.0" y="921.92" class="lg" style="font-size:11.8px">2.4</text>
<line x1="1354.5" y1="948.4" x2="1358.8" y2="948.4" stroke="#fff" stroke-opacity="0.55" stroke-width="1"/>
<line x1="1372.8" y1="948.4" x2="1377.1" y2="948.4" stroke="#fff" stroke-opacity="0.55" stroke-width="1"/>
<text x="1384.0" y="952.62" class="lg" style="font-size:11.8px">2.0</text>
</svg></body></html>
